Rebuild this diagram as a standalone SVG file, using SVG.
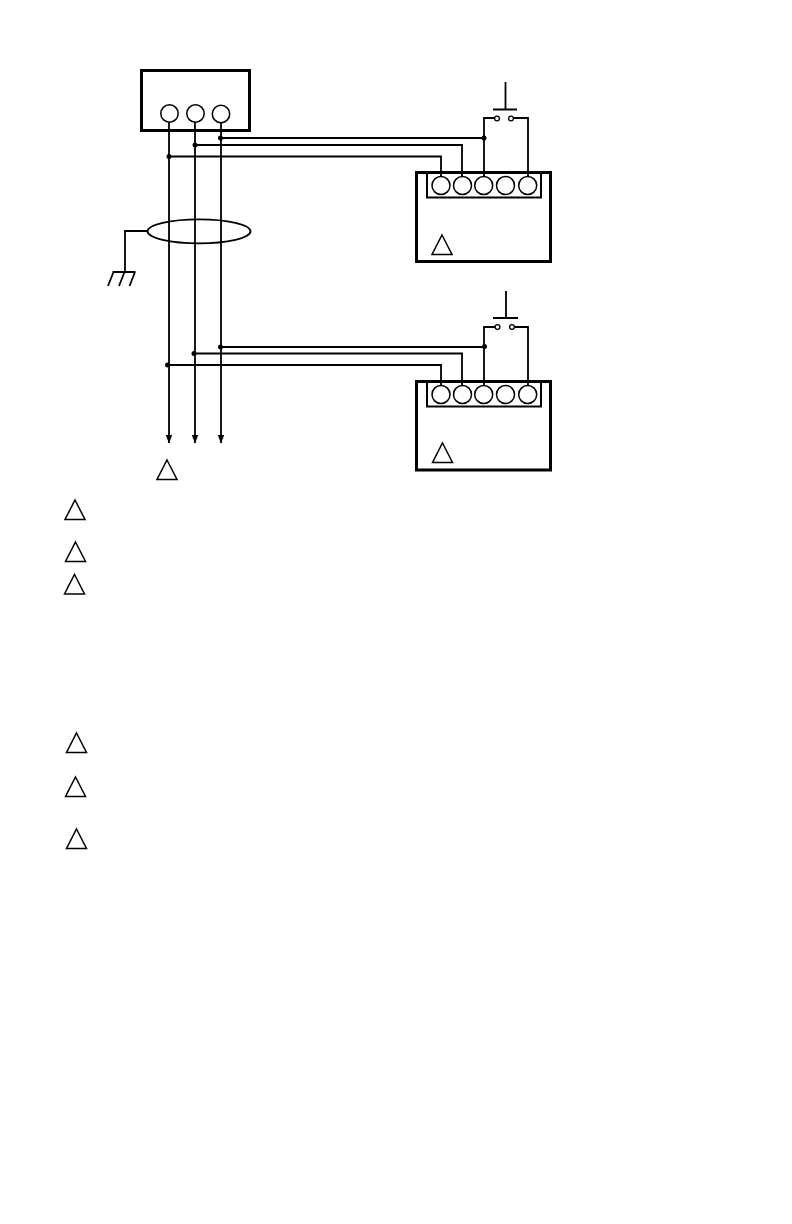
<svg xmlns="http://www.w3.org/2000/svg" width="792" height="1224" viewBox="0 0 792 1224">
<style>
.box{fill:none;stroke:#000;stroke-width:3}
.inner{fill:none;stroke:#000;stroke-width:2}
.w{fill:none;stroke:#000;stroke-width:1.8}
.t{fill:#fff;stroke:#000;stroke-width:1.3}
.tri{fill:#fff;stroke:#000;stroke-width:1.5}
.c{fill:#fff;stroke:#000;stroke-width:1.5}
.d{fill:#000}
</style>
<defs>
<polygon id="tr" points="10,0 20,19.5 0,19.5" class="tri"/>
</defs>
<rect width="792" height="1224" fill="#fff"/>
<g id="device-boxes">
<rect class="box" x="416.500" y="172.500" width="134" height="89"/>
<path class="inner" d="M427 173V197.500H541V173"/>
<rect class="box" x="416.500" y="381.500" width="134" height="88.500"/>
<path class="inner" d="M427 382V406.500H541V382"/>
</g>
<g id="connectors">
<path class="w" d="M169 122V443M195 122V443M221 122V443"/>
<path d="M165.800 435L169 443.500L172.200 435ZM191.800 435L195 443.500L198.200 435ZM217.800 435L221 443.500L224.200 435Z" fill="#000"/>
<path class="w" d="M220.500 138H484M195 145H462V177M169 156.500H441V177"/>
<path class="w" d="M484 177V118H494.500M513.500 118H528V177"/>
<path class="w" d="M220.500 347H484.500M194 353.500H462V386M167.500 365H441V386"/>
<path class="w" d="M484 386V327H495M514.500 327H528V386"/>
<path class="w" d="M148 231H125V272M112.500 272H135.500M113.500 272L108 286M124.500 272L119 286M135 272L129.500 286"/>
<circle class="d" cx="220.500" cy="138" r="2.500"/><circle class="d" cx="195" cy="145" r="2.500"/><circle class="d" cx="169" cy="156.500" r="2.500"/>
<circle class="d" cx="484" cy="138" r="2.500"/>
<circle class="d" cx="220.500" cy="347" r="2.500"/><circle class="d" cx="194" cy="353.500" r="2.500"/><circle class="d" cx="167.500" cy="365" r="2.500"/>
<circle class="d" cx="484.500" cy="346.500" r="2.500"/>
</g>
<g id="controller">
<rect class="box" x="141.500" y="70.500" width="108" height="60"/>
<circle class="c" cx="169.500" cy="113.500" r="8.700"/><circle class="c" cx="195.500" cy="113.500" r="8.700"/><circle class="c" cx="221" cy="114" r="8.700"/>
</g>
<g id="shield"><ellipse cx="199" cy="231.300" rx="51.500" ry="12" fill="none" stroke="#000" stroke-width="1.800"/></g>
<g id="device-1">
<circle class="c" cx="441" cy="185.500" r="9"/><circle class="c" cx="462.500" cy="185.500" r="9"/><circle class="c" cx="483.700" cy="185.500" r="9"/><circle class="c" cx="505.500" cy="185.500" r="9"/><circle class="c" cx="527.700" cy="185.500" r="9"/>
<use href="#tr" x="432" y="235"/>
</g>
<g id="switch-1">
<path class="w" d="M505.500 82V109.500M493 109.500H517"/>
<circle class="t" cx="497" cy="118.500" r="2.400"/><circle class="t" cx="511" cy="118.500" r="2.400"/>
</g>
<g id="device-2">
<circle class="c" cx="441" cy="394.500" r="9"/><circle class="c" cx="462.500" cy="394.500" r="9"/><circle class="c" cx="483.700" cy="394.500" r="9"/><circle class="c" cx="505.500" cy="394.500" r="9"/><circle class="c" cx="527.700" cy="394.500" r="9"/>
<use href="#tr" x="432.500" y="443"/>
</g>
<g id="switch-2">
<path class="w" d="M506 291V318M493 318H518"/>
<circle class="t" cx="497.500" cy="327" r="2.400"/><circle class="t" cx="512" cy="327" r="2.400"/>
</g>
<g id="notes">
<use href="#tr" x="157" y="460"/>
<use href="#tr" x="65" y="500"/>
<use href="#tr" x="65.500" y="542"/>
<use href="#tr" x="64.500" y="574.500"/>
<use href="#tr" x="66.500" y="733"/>
<use href="#tr" x="65.500" y="777"/>
<use href="#tr" x="66.500" y="829"/>
</g>
</svg>
